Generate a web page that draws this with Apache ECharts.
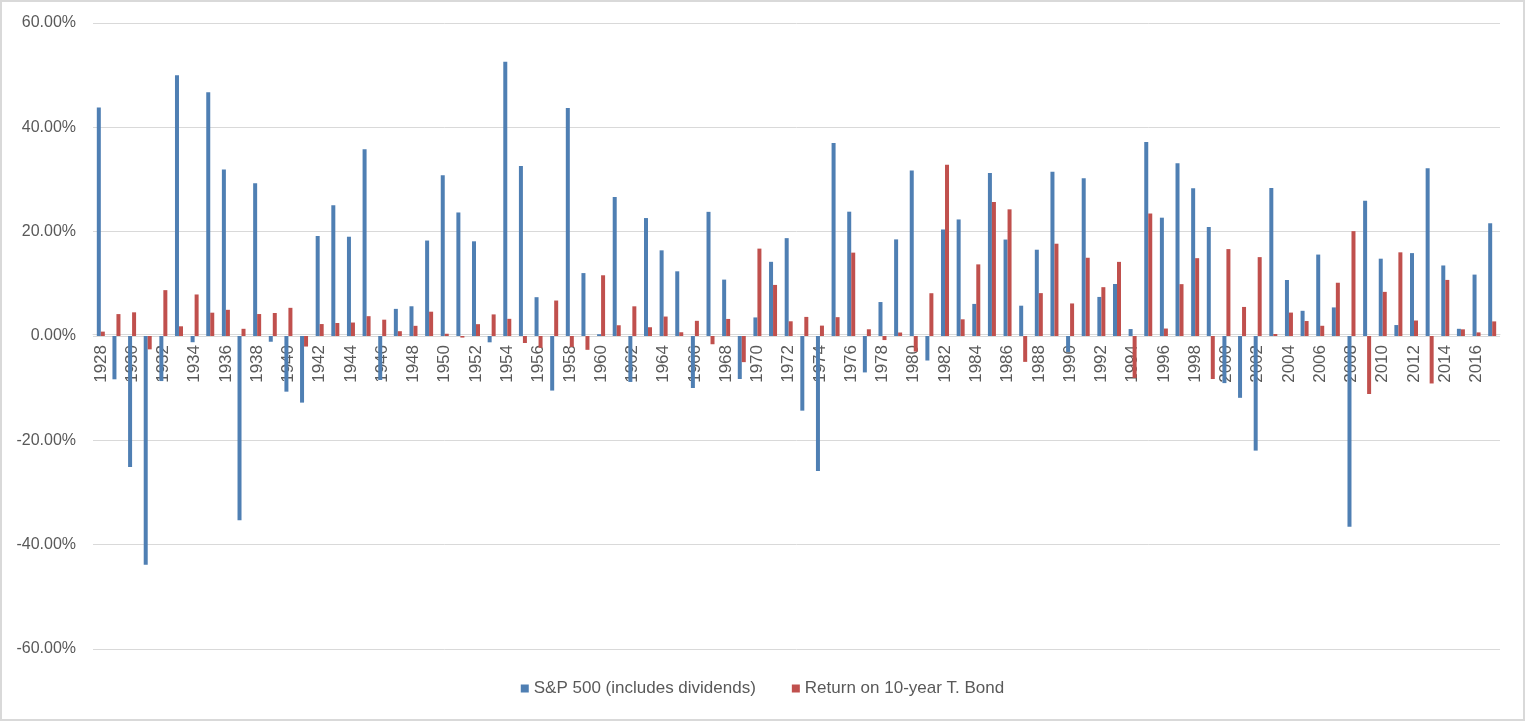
<!DOCTYPE html>
<html><head><meta charset="utf-8">
<script src="https://cdn.jsdelivr.net/npm/echarts@6/dist/echarts.min.js"></script>
<style>html,body{margin:0;padding:0;background:#fff}#c{width:1525px;height:721px;box-sizing:border-box;border:2px solid #d9d9d9}</style>
</head><body><div id="c"></div>
<script>
const years = [];
for (let y = 1928; y <= 2017; y++) years.push(String(y));
const sp500 = [43.81,-8.30,-25.12,-43.84,-8.64,49.98,-1.19,46.74,31.94,-35.34,29.28,-1.10,-10.67,-12.77,19.17,25.06,19.03,35.82,-8.43,5.20,5.70,18.30,30.81,23.68,18.15,-1.21,52.56,32.60,7.44,-10.46,43.72,12.06,0.34,26.64,-8.81,22.61,16.42,12.40,-9.97,23.80,10.81,-8.24,3.56,14.22,18.76,-14.31,-25.90,37.00,23.83,-6.98,6.51,18.52,31.74,-4.70,20.42,22.34,6.15,31.24,18.49,5.81,16.54,31.48,-3.06,30.23,7.49,9.97,1.33,37.20,22.68,33.10,28.34,20.89,-9.03,-11.85,-21.97,28.36,10.74,4.83,15.61,5.48,-36.55,25.94,14.82,2.10,15.89,32.15,13.52,1.38,11.77,21.61];
const tbond = [0.84,4.20,4.54,-2.56,8.79,1.86,7.96,4.47,5.02,1.38,4.21,4.41,5.40,-2.02,2.29,2.49,2.58,3.80,3.13,0.92,1.95,4.66,0.43,-0.30,2.27,4.14,3.29,-1.34,-2.26,6.80,-2.10,-2.65,11.64,2.06,5.69,1.68,3.73,0.72,2.91,-1.58,3.27,-5.01,16.75,9.79,2.82,3.66,1.99,3.61,15.98,1.29,-0.78,0.67,-2.99,8.20,32.81,3.20,13.73,25.71,24.28,-4.96,8.22,17.69,6.24,15.00,9.36,14.21,-8.04,23.48,1.43,9.94,14.92,-8.25,16.66,5.57,15.12,0.38,4.49,2.87,1.96,10.21,20.10,-11.12,8.46,16.04,2.97,-9.10,10.75,1.28,0.69,2.80];
const seriesNames = ['S&P 500 (includes dividends)', 'Return on 10-year T. Bond'];
const chart = echarts.init(document.getElementById('c'));
const font = 'Liberation Sans';
const gridTop = 21, gridBottom = 70, H = 721;
const zeroOffset = -((H - gridTop - gridBottom) / 2);
chart.setOption({
  animation: false,
  textStyle: {fontFamily: font},
  grid: {left: 91, right: 23, top: gridTop, bottom: gridBottom, containLabel: false},
  legend: {
    bottom: 17, left: 'center', itemWidth: 8, itemHeight: 8, itemGap: 36,
    icon: 'rect',
    textStyle: {fontSize: 17, color: '#595959', fontFamily: font},
    data: seriesNames
  },
  xAxis: {
    type: 'category', data: years,
    offset: zeroOffset,
    axisLine: {onZero: false, lineStyle: {color: '#d9d9d9'}},
    axisTick: {show: false},
    axisLabel: {interval: 1, rotate: 90, fontSize: 17, color: '#595959', margin: 11, fontFamily: font}
  },
  yAxis: {
    type: 'value', min: -60, max: 60, interval: 20,
    axisLine: {show: false}, axisTick: {show: false},
    splitLine: {lineStyle: {color: '#d9d9d9'}},
    axisLabel: {formatter: v => v.toFixed(2) + '%', fontSize: 16, color: '#595959', margin: 17, fontFamily: font}
  },
  series: [
    {name: seriesNames[0], type: 'bar', data: sp500, barWidth: 4, barGap: '0%', itemStyle: {color: '#4f7fb3'}},
    {name: seriesNames[1], type: 'bar', data: tbond, barWidth: 4, barGap: '0%', itemStyle: {color: '#c0504d'}}
  ]
});
</script></body></html>
